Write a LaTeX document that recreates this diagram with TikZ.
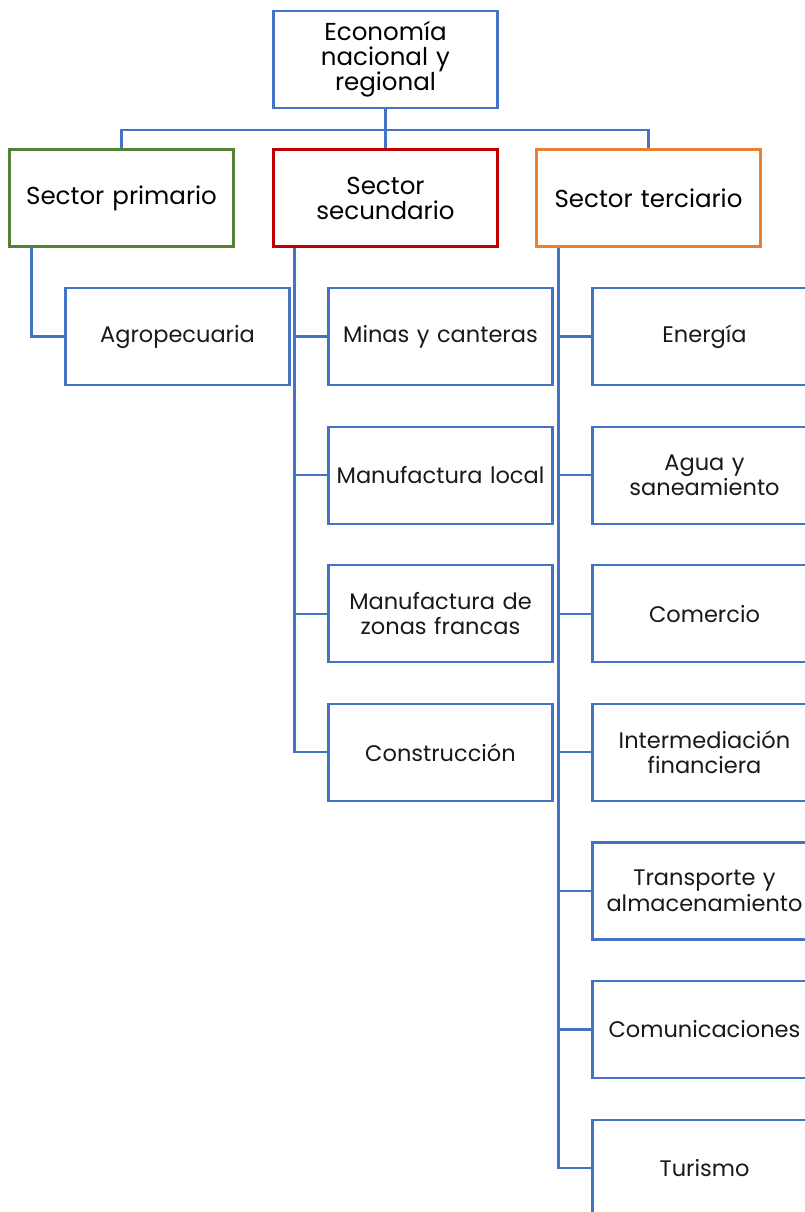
\documentclass[tikz,border=0pt]{standalone}
\usepackage{fontspec}
\setmainfont{Poppins}
\usepackage{tikz}
\usetikzlibrary{positioning}
\definecolor{boxblue}{HTML}{4472C4}
\definecolor{boxgreen}{HTML}{548235}
\definecolor{boxred}{HTML}{C00000}
\definecolor{boxorange}{HTML}{ED7D31}

\begin{document}
\begin{tikzpicture}[
  x=1pt, y=-1pt,
  box/.style={
    draw=boxblue, line width=2.2pt, fill=white,
    minimum width=223pt, minimum height=97pt,
    align=center, inner sep=2pt, text width=220pt,
    text=black!90, font=\fontsize{22.5}{25.5}\selectfont
  },
  headbox/.style={box, text=black, font=\fontsize{24.5}{25}\selectfont},
  link/.style={draw=boxblue, line width=2.2pt}
]
  \useasboundingbox (0,0) rectangle (805,1212);
  \clip (0,0) rectangle (805,1212);
  % top level
  \node[headbox] (eco) at (385.5,59.5) {Economía\\nacional y\\regional};
  \node[headbox, draw=boxgreen] (prim) at (121.5,198) {Sector primario};
  \node[headbox, draw=boxred] (sec) at (385.5,198) {Sector\\secundario};
  \node[headbox, draw=boxorange] (ter) at (648.5,198) {Sector terciario};
  \coordinate (bus) at ([yshift=-21pt]eco.south);
  \draw[link] (eco.south) -- (sec.north);
  \draw[link] (bus) -| (prim.north);
  \draw[link] (bus) -| (ter.north);
  % trunk start points
  \coordinate (prim-out) at ([xshift=23pt]prim.south west);
  \coordinate (sec-out) at ([xshift=22pt]sec.south west);
  \coordinate (ter-out) at ([xshift=23pt]ter.south west);
  % primario
  \node[box] (agro) at (177.5,336.5) {Agropecuaria};
  \draw[link] (prim-out) |- (agro.west);
  % secundario
  \foreach \i/\txt in {0/Minas y canteras,1/Manufactura local,
      2/{Manufactura de\\zonas francas},3/Construcción} {
    \node[box] (s\i) at (440.5,336.5+138.6*\i) {\txt};
    \draw[link] (sec-out) |- (s\i.west);
  }
  % terciario
  \foreach \i/\txt in {0/Energía,1/{Agua y\\saneamiento},2/Comercio,
      3/{Intermediación\\financiera},4/{Transporte y\\almacenamiento},
      5/Comunicaciones,6/Turismo} {
    \node[box] (t\i) at (704.5,336.5+138.6*\i) {\txt};
    \draw[link] (ter-out) |- (t\i.west);
  }
\end{tikzpicture}
\end{document}
